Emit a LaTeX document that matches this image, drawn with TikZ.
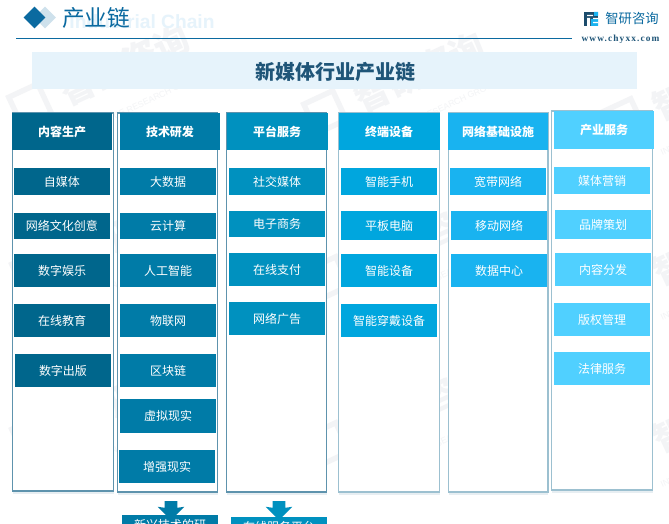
\documentclass[tikz,border=0pt]{standalone}
\usepackage{fontspec}
\usetikzlibrary{shadows,shapes.arrows,shapes.geometric}
\setmainfont{Noto Sans CJK SC}
\newfontfamily\webfont[LetterSpace=12]{Liberation Serif}
\setsansfont{Liberation Sans}
\definecolor{contentblue}{HTML}{00668C}
\definecolor{techblue}{HTML}{007BA7}
\definecolor{platformblue}{HTML}{0091BF}
\definecolor{deviceblue}{HTML}{00A6DE}
\definecolor{networkblue}{HTML}{19B3F0}
\definecolor{serviceblue}{HTML}{50D0FF}
\definecolor{darkframe}{HTML}{5E93AD}
\definecolor{lightframe}{HTML}{9CC0D0}
\definecolor{rulecolor}{HTML}{0B6AA0}
\definecolor{bandcolor}{HTML}{E6F3FB}
\definecolor{titlecolor}{HTML}{1F5578}
\definecolor{markcolor}{HTML}{F3F4F6}
\tikzset{
    framebox/.style 2 args={draw=#1, line width=0.8pt, fill=white, minimum width=#2*0.75pt,
        inner sep=0pt, drop shadow={shadow xshift=0pt, shadow yshift=-2.5pt, opacity=0.15, fill=darkframe}},
    headbox/.style 2 args={fill=#1, minimum width=#2*0.75pt, inner sep=0pt, text=white, font=\bfseries\fontsize{9}{11}\selectfont},
    itembox/.style 2 args={fill=#1, minimum width=72pt, minimum height=#2*0.75pt, inner sep=0pt, text=white, font=\fontsize{9}{11}\selectfont},
    downarrow/.style={single arrow, fill=#1, shape border rotate=270, minimum height=11.25pt, minimum width=19.5pt,
        inner sep=4.5pt, single arrow head extend=5.25pt, single arrow head indent=0.8pt},
    markbox/.style={text=markcolor, rotate=25, inner sep=0pt, font=\bfseries\fontsize{26}{28}\selectfont},
}
\begin{document}
\begin{tikzpicture}[x=0.75pt,y=-0.75pt]
    \useasboundingbox (0,0) rectangle (669,524);
    \clip (0,0) rectangle (669,524);
    \fill[white] (0,0) rectangle (669,524);

    \foreach \mx/\my in {125/65, 420/72, 718/80, 128/232, 423/238, 718/245, 128/397, 423/404, 718/412} {
        \node[markbox] (mark\mx-\my) at (\mx,\my) {智研咨询};
        \node[draw=markcolor, line width=4pt, rotate=25, minimum size=24pt, inner sep=0pt] (logo\mx-\my) at ([shift={(-95,40)}]\mx,\my) {};
        \node[text=markcolor, rotate=25, inner sep=0pt, font=\sffamily\fontsize{6.5}{8}\selectfont] (sub\mx-\my) at ([shift={(10,42)}]\mx,\my) {INTELLIGENCE RESEARCH GROUP};
    }

    \node[text=bandcolor, inner sep=0pt, font=\sffamily\bfseries\fontsize{14.4}{16}\selectfont] (english) at (142,22) {Industrial Chain};
    \node[diamond, fill=rulecolor!20, minimum width=16.5pt, minimum height=16.5pt, inner sep=0pt] (diamondback) at (45,17.5) {};
    \node[diamond, fill=rulecolor, minimum width=16.5pt, minimum height=16.5pt, inner sep=0pt] (diamondfront) at (34.5,17.5) {};
    \node[text=rulecolor, inner sep=0pt, font=\fontsize{17}{19}\selectfont] (chaintitle) at (96,18) {产业链};
    \coordinate (ruleleft) at (16,38.5);
    \coordinate (ruleright) at (572,38.5);
    \draw[rulecolor, line width=0.8pt] (ruleleft) -- (ruleright);

    \fill[titlecolor!90!black] (584,12) rectangle (598,26);
    \fill[networkblue] (591,19) rectangle (598,26) (594,12) rectangle (598,16);
    \fill[white] (587,15) rectangle (593,16.2) (593,18) rectangle (598,19.2) (587,18) rectangle (590,26) (593,22) rectangle (598,23.2);
    \node[text=rulecolor, inner sep=0pt, font=\fontsize{10}{12}\selectfont] (brand) at (632,18) {智研咨询};
    \node[text=titlecolor, inner sep=0pt, font=\webfont\bfseries\fontsize{7}{9}\selectfont] (website) at (620.5,39) {www.chyxx.com};

    \node[fill=bandcolor, minimum width=453.75pt, minimum height=27.75pt, inner sep=0pt] (band) at (334.5,70.5) {};
    \node[text=titlecolor, inner sep=0pt, font=\bfseries\fontsize{15}{17}\selectfont] (title) at (335.5,71.5) {新媒体行业产业链};

    \node[framebox={darkframe}{101}, minimum height=283.5pt] (contentframe) at (63,302) {};
    \node[framebox={darkframe}{100}, minimum height=284.25pt] (techframe) at (167.5,302.5) {};
    \node[framebox={darkframe}{100}, minimum height=284.25pt] (platformframe) at (276.5,302.5) {};
    \node[framebox={lightframe}{101}, minimum height=284.25pt] (deviceframe) at (389,302.5) {};
    \node[framebox={lightframe}{99.5}, minimum height=284.25pt] (networkframe) at (498.25,302.5) {};
    \node[framebox={lightframe}{101}, minimum height=284.25pt] (serviceframe) at (602,300.5) {};

    \node[headbox={contentblue}{100}, minimum height=27.75pt] (contenthead) at (62,131.5) {内容生产};
    \node[headbox={techblue}{100}, minimum height=27.75pt] (techhead) at (170,131.5) {技术研发};
    \node[headbox={platformblue}{101}, minimum height=27.75pt] (platformhead) at (277,131.5) {平台服务};
    \node[headbox={deviceblue}{101}, minimum height=27.75pt] (devicehead) at (389,131.5) {终端设备};
    \node[headbox={networkblue}{100}, minimum height=27.75pt] (networkhead) at (498,131.5) {网络基础设施};
    \node[headbox={serviceblue}{100}, minimum height=28.5pt] (servicehead) at (604,130) {产业服务};

    \node[itembox={contentblue}{27}] (content1) at (62,181.5) {自媒体};
    \node[itembox={contentblue}{26}] (content2) at (62,226) {网络文化创意};
    \node[itembox={contentblue}{33}] (content3) at (62,270.5) {数字娱乐};
    \node[itembox={contentblue}{33}] (content4) at (62,320.5) {在线教育};
    \node[itembox={contentblue}{33}] (content5) at (63,370.5) {数字出版};

    \node[itembox={techblue}{27}] (tech1) at (168,181.5) {大数据};
    \node[itembox={techblue}{26}] (tech2) at (168,226) {云计算};
    \node[itembox={techblue}{33}] (tech3) at (168,270.5) {人工智能};
    \node[itembox={techblue}{33}] (tech4) at (168,320.5) {物联网};
    \node[itembox={techblue}{33}] (tech5) at (168,370.5) {区块链};
    \node[itembox={techblue}{34}] (tech6) at (168,416) {虚拟现实};
    \node[itembox={techblue}{33}] (tech7) at (167,466.5) {增强现实};

    \node[itembox={platformblue}{27}] (platform1) at (277,181.5) {社交媒体};
    \node[itembox={platformblue}{26}] (platform2) at (277,224) {电子商务};
    \node[itembox={platformblue}{33}] (platform3) at (277,269.5) {在线支付};
    \node[itembox={platformblue}{33}] (platform4) at (277,318.5) {网络广告};

    \node[itembox={deviceblue}{27}] (device1) at (389,181.5) {智能手机};
    \node[itembox={deviceblue}{29}] (device2) at (389,225.5) {平板电脑};
    \node[itembox={deviceblue}{33}] (device3) at (389,270.5) {智能设备};
    \node[itembox={deviceblue}{33}] (device4) at (389,320.5) {智能穿戴设备};

    \node[itembox={networkblue}{27}] (network1) at (498,181.5) {宽带网络};
    \node[itembox={networkblue}{29}] (network2) at (499,225.5) {移动网络};
    \node[itembox={networkblue}{33}] (network3) at (499,270.5) {数据中心};

    \node[itembox={serviceblue}{27}] (service1) at (602,180.5) {媒体营销};
    \node[itembox={serviceblue}{29}] (service2) at (603,224.5) {品牌策划};
    \node[itembox={serviceblue}{33}] (service3) at (603,269.5) {内容分发};
    \node[itembox={serviceblue}{33}] (service4) at (602,319.5) {版权管理};
    \node[itembox={serviceblue}{33}] (service5) at (602,368.5) {法律服务};

    \node[downarrow=techblue] (techarrow) at (171,507.5) {};
    \node[downarrow=platformblue] (platformarrow) at (279,507.5) {};
    \node[itembox={techblue}{20}] (techbottom) at (170,525) {新兴技术的研};
    \node[itembox={platformblue}{20}] (platformbottom) at (279,527) {在线服务平台};
\end{tikzpicture}
\end{document}
